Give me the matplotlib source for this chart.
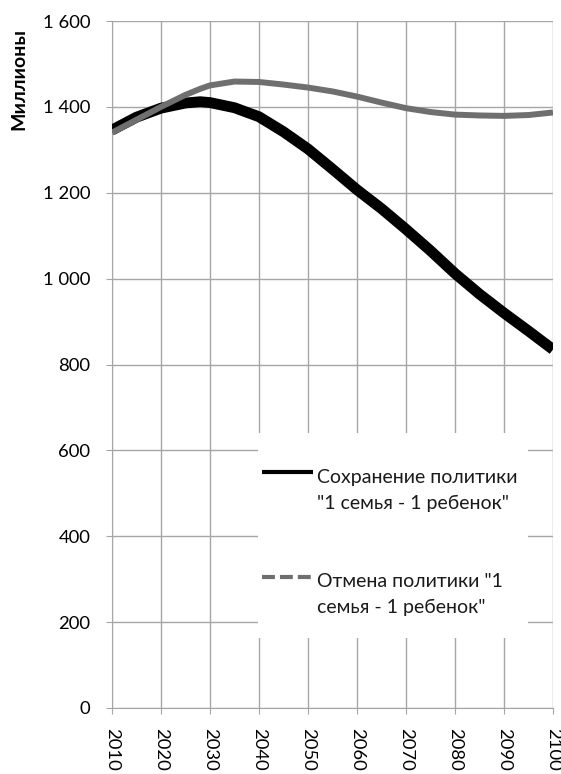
import matplotlib.pyplot as plt
from matplotlib.lines import Line2D
from matplotlib.patches import Rectangle

plt.rcParams['font.family'] = ['Lato', 'DejaVu Sans']

# Data (millions)
years = [2010, 2015, 2020, 2025, 2028, 2030, 2035, 2040, 2045, 2050, 2055,
         2060, 2065, 2070, 2075, 2080, 2085, 2090, 2095, 2100]
keep_policy = [1346, 1376, 1397, 1409, 1412, 1410, 1398, 1377, 1342, 1302, 1255,
               1207, 1163, 1115, 1065, 1012, 964, 920, 878, 835]
drop_policy = [1340, 1370, 1400, 1428, 1442, 1450, 1459, 1458, 1452, 1445, 1436,
               1424, 1410, 1397, 1388, 1382, 1380, 1379, 1381, 1387]

label_keep = 'Сохранение политики\n"1 семья - 1 ребенок"'
label_drop = 'Отмена политики "1\nсемья - 1 ребенок"'
ytick_labels = ['0', '200', '400', '600', '800', '1 000', '1 200', '1 400', '1 600']

W, H = 561, 774
fig = plt.figure(figsize=(W / 100, H / 100), dpi=100)
# plot area in pixels: x 112..553, y 21..708
L, R, T, B = 112, 553, 21, 708
ax = fig.add_axes([L / W, 1 - B / H, (R - L) / W, (B - T) / H])


def ax_x(px):
    return (px - L) / (R - L)


def ax_y(py):
    return (B - py) / (B - T)


grid_color = '#a6a6a6'
black = 'black'
gray = '#6f6f6f'
ax.plot(years, keep_policy, color=black, lw=7.8, solid_capstyle='butt', zorder=3)
ax.plot(years, drop_policy, color=gray, lw=4.3, solid_capstyle='butt', zorder=4)

ax.set_xlim(2010, 2100)
ax.set_ylim(0, 1600)
ax.set_xticks(range(2010, 2101, 10))
ax.set_yticks(range(0, 1601, 200))
ax.set_yticklabels(ytick_labels)
ax.tick_params(axis='x', rotation=-90, labelsize=13.3, color=grid_color, length=4.5, pad=10)
ax.tick_params(axis='y', labelsize=13.3, color=grid_color, length=4.5, pad=11)
for t in ax.get_xticklabels():
    t.set_va('top')
    t.set_ha('center')

ax.grid(True, color=grid_color, lw=1)
ax.set_axisbelow(True)
for side in ['top', 'right']:
    ax.spines[side].set_visible(False)
for side in ['left', 'bottom']:
    ax.spines[side].set_color(grid_color)

ax.set_ylabel('Миллионы', fontsize=14, fontweight='bold')
ax.yaxis.set_label_coords(ax_x(27), ax_y(79))

# legend box (white, no border) drawn by hand to match the layout
ax.add_patch(Rectangle((ax_x(258), ax_y(638)), ax_x(528) - ax_x(258), ax_y(433) - ax_y(638),
                       transform=ax.transAxes, facecolor='white', edgecolor='none', zorder=2))
entries = [(label_keep, black, '-', 472, [483, 509]),
           (label_drop, gray, (0, (3.1, 1.2)), 577, [587, 613])]
for label, color, ls, hy, baselines in entries:
    ax.add_line(Line2D([ax_x(262), ax_x(313)], [ax_y(hy), ax_y(hy)], transform=ax.transAxes,
                       color=color, lw=3, ls=ls, solid_capstyle='butt', zorder=5))
    for line, by in zip(label.split('\n'), baselines):
        ax.text(ax_x(317), ax_y(by), line, transform=ax.transAxes, fontsize=14,
                va='baseline', ha='left', color='#1a1a1a', zorder=5)

fig.savefig('out.png', dpi=100)
